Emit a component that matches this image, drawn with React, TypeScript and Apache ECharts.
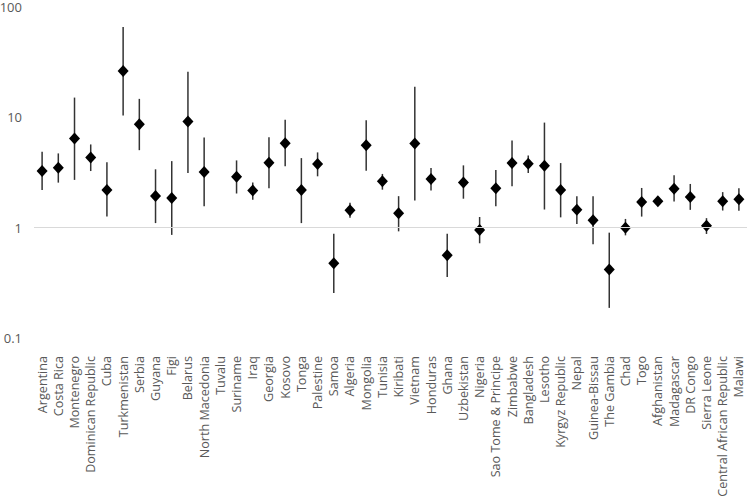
import React, { useEffect, useRef } from "react";
import * as echarts from "echarts";

const countries = [
  "Argentina", "Costa Rica", "Montenegro", "Dominican Republic", "Cuba", "Turkmenistan",
  "Serbia", "Guyana", "Figi", "Belarus", "North Macedonia", "Tuvalu", "Suriname", "Iraq",
  "Georgia", "Kosovo", "Tonga", "Palestine", "Samoa", "Algeria", "Mongolia", "Tunisia",
  "Kiribati", "Vietnam", "Honduras", "Ghana", "Uzbekistan", "Nigeria", "Sao Tome & Principe",
  "Zimbabwe", "Bangladesh", "Lesotho", "Kyrgyz Republic", "Nepal", "Guinea-Bissau",
  "The Gambia", "Chad", "Togo", "Afghanistan", "Madagascar", "DR Congo", "Sierra Leone",
  "Central African Republic", "Malawi",
];

const estimate: (number | null)[] = [
  3.26, 3.49, 6.43, 4.33, 2.2, 26.3, 8.65, 1.94, 1.86, 9.15, 3.2, null, 2.9, 2.17,
  3.88, 5.83, 2.19, 3.77, 0.477, 1.44, 5.59, 2.63, 1.35, 5.8, 2.76, 0.563, 2.56, 0.953, 2.28,
  3.85, 3.8, 3.64, 2.19, 1.45, 1.17, 0.418, 1.0, 1.71, 1.74, 2.25, 1.9, 1.04, 1.74, 1.81,
];

const upper: (number | null)[] = [
  4.87, 4.71, 15.1, 5.68, 3.91, 66.0, 14.7, 3.38, 4.01, 25.9, 6.56, null, 4.07, 2.56,
  6.6, 9.53, 4.27, 4.81, 0.883, 1.68, 9.4, 3.07, 1.93, 18.9, 3.47, 0.883, 3.67, 1.25, 3.33,
  6.17, 4.52, 8.96, 3.85, 1.93, 1.93, 0.901, 1.2, 2.29, 1.82, 2.98, 2.49, 1.22, 2.1, 2.28,
];

const lower: (number | null)[] = [
  2.19, 2.56, 2.71, 3.26, 1.26, 10.4, 5.04, 1.1, 0.86, 3.13, 1.56, null, 2.04, 1.79,
  2.28, 3.6, 1.1, 2.92, 0.256, 1.23, 3.28, 2.21, 0.926, 1.76, 2.17, 0.357, 1.83, 0.722, 1.56,
  2.37, 3.13, 1.46, 1.24, 1.08, 0.707, 0.1875, 0.852, 1.26, 1.66, 1.73, 1.45, 0.877, 1.43, 1.42,
];

const yTicks = [0.1, 1, 10, 100];

export default function App() {
  const ref = useRef<HTMLDivElement>(null);

  useEffect(() => {
    if (!ref.current) return;
    const chart = echarts.init(ref.current, null, { renderer: "svg" });

    const errData: number[][] = [];
    countries.forEach((_, i) => {
      const lo = lower[i];
      const hi = upper[i];
      if (lo != null && hi != null) errData.push([i, lo, hi]);
    });
    const pointData = estimate.map((v) => (v == null ? "-" : v));

    chart.setOption({
      animation: false,
      backgroundColor: "#ffffff",
      textStyle: { fontFamily: "Open Sans" },
      grid: {
        left: 34,
        right: 1,
        top: 7,
        bottom: 161,
        containLabel: false,
        outerBoundsMode: "none",
      },
      xAxis: {
        type: "category",
        data: countries,
        boundaryGap: true,
        axisLine: { show: false },
        axisTick: { show: false },
        splitLine: { show: false },
        axisLabel: {
          rotate: 90,
          interval: 0,
          margin: 18,
          color: "#595959",
          fontSize: 12.6,
          fontFamily: "Open Sans",
        },
      },
      yAxis: {
        type: "log",
        logBase: 10,
        min: yTicks[0],
        max: yTicks[yTicks.length - 1],
        axisLine: { show: false },
        axisTick: { show: false },
        splitLine: { show: false },
        axisLabel: {
          color: "#595959",
          fontSize: 13,
          margin: 12,
          fontFamily: "Open Sans",
          formatter: (v: number) => String(v),
        },
      },
      series: [
        {
          type: "custom",
          data: errData,
          encode: { x: 0, y: [1, 2] },
          z: 2,
          renderItem: (params: any, api: any) => {
            const p1 = api.coord([api.value(0), api.value(1)]);
            const p2 = api.coord([api.value(0), api.value(2)]);
            return {
              type: "line",
              shape: { x1: p1[0], y1: p1[1], x2: p2[0], y2: p2[1] },
              style: { stroke: "#333333", lineWidth: 1.5 },
            };
          },
        },
        {
          type: "scatter",
          data: pointData,
          symbol: "diamond",
          symbolSize: [11, 12],
          itemStyle: { color: "#000000", opacity: 1 },
          z: 3,
          markLine: {
            silent: true,
            symbol: ["none", "none"],
            label: { show: false },
            lineStyle: { color: "#d9d9d9", width: 1, type: "solid" },
            data: [{ yAxis: 1 }],
          },
        },
      ],
    });

    return () => chart.dispose();
  }, []);

  return (
    <div
      ref={ref}
      style={{ position: "fixed", left: 0, top: 0, width: 748, height: 499, background: "#fff" }}
    />
  );
}
